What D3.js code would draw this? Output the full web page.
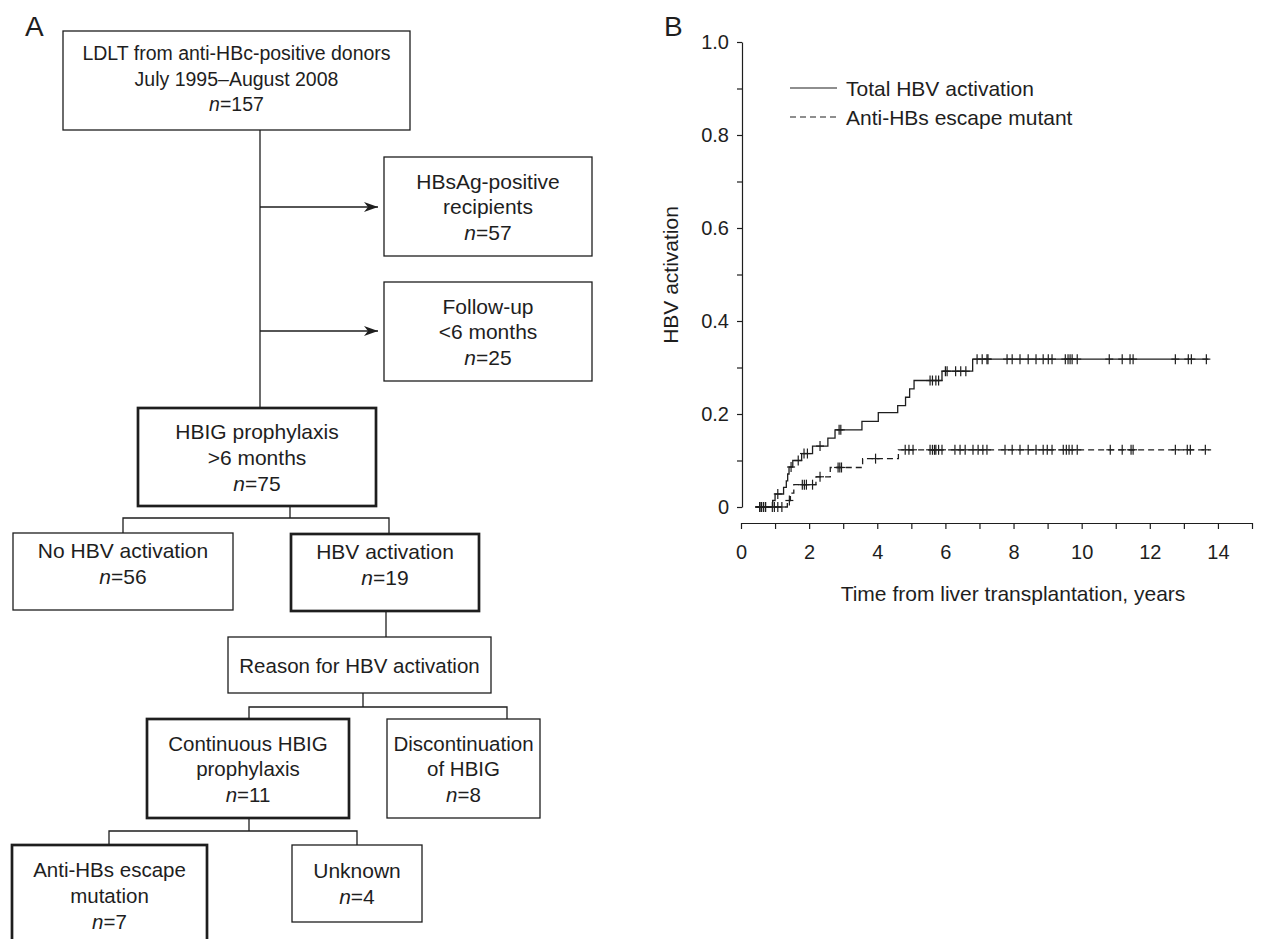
<!DOCTYPE html>
<html>
<head>
<meta charset="utf-8">
<script src="https://cdn.jsdelivr.net/npm/d3@7"></script>
<style>
  body { margin: 0; background: #fff; }
  svg { display: block; font-family: "Liberation Sans", Arial, Helvetica, sans-serif; }
</style>
</head>
<body>
<div id="chart"></div>
<script>
// ---- Panel B: cumulative HBV activation (step curves) ----
const yearTicks = d3.range(0, 16);
const yearLabels = [0, 2, 4, 6, 8, 10, 12, 14];
const activationTicks = d3.range(0, 11).map(d => d / 10);
const activationLabels = ["0", "0.2", "0.4", "0.6", "0.8", "1.0"];
const seriesNames = ["Total HBV activation", "Anti-HBs escape mutant"];

// [years, cumulative activation after the step]
const totalStart = 0.42, totalEnd = 13.72;
const totalSteps = [
    [0.93, 0.014], [1.0, 0.028], [1.25, 0.042], [1.33, 0.056], [1.37, 0.071],
    [1.41, 0.086], [1.52, 0.100], [1.78, 0.115], [2.10, 0.131], [2.55, 0.148],
    [2.76, 0.166], [3.55, 0.184], [4.03, 0.203], [4.60, 0.218], [4.83, 0.236],
    [4.95, 0.254], [5.08, 0.272], [5.90, 0.292], [6.80, 0.318]
];
const totalCensored = [
    0.55, 0.6, 0.66, 0.72, 1.08, 1.47, 1.68, 1.85, 1.95, 2.32, 2.88, 2.93,
    5.55, 5.62, 5.72, 5.8, 6.0, 6.05, 6.3, 6.45, 6.6, 6.93, 7.08, 7.22, 7.25,
    7.81, 7.96, 8.19, 8.43, 8.66, 8.87, 9.02, 9.13, 9.52, 9.6, 9.66, 9.72, 9.87,
    10.81, 11.19, 11.42, 11.51, 12.75, 13.13, 13.22, 13.66
];

const escapeStart = 0.42, escapeEnd = 13.8;
const escapeSteps = [
    [1.36, 0.014], [1.45, 0.030], [1.55, 0.048], [2.20, 0.065],
    [2.62, 0.085], [3.57, 0.104], [4.62, 0.123]
];
const escapeCensored = [
    0.55, 0.6, 0.66, 0.72, 0.92, 0.98, 1.08, 1.2, 1.42, 1.8, 1.86, 1.92, 2.1,
    2.32, 2.85, 2.9, 2.95, 3.95, 4.82, 4.93, 5.05, 5.55, 5.62, 5.68, 5.72, 5.8,
    5.9, 6.28, 6.43, 6.58, 6.81, 6.96, 7.1, 7.22, 7.75, 7.96, 8.19, 8.43, 8.66,
    8.87, 8.99, 9.13, 9.46, 9.55, 9.63, 9.72, 9.87, 10.84, 11.19, 11.45, 11.51,
    12.75, 13.1, 13.19, 13.63
];

// ---- Panel A: patient flow ----
const flowNodes = [
    { id: "ldlt", lines: ["LDLT from anti-HBc-positive donors", "July 1995\u2013August 2008"], n: 157 },
    { id: "hbsag", lines: ["HBsAg-positive", "recipients"], n: 57 },
    { id: "followup", lines: ["Follow-up", "<6 months"], n: 25 },
    { id: "hbig", lines: ["HBIG prophylaxis", ">6 months"], n: 75, bold: true },
    { id: "noact", lines: ["No HBV activation"], n: 56 },
    { id: "act", lines: ["HBV activation"], n: 19, bold: true },
    { id: "reason", lines: ["Reason for HBV activation"], n: null },
    { id: "cont", lines: ["Continuous HBIG", "prophylaxis"], n: 11, bold: true },
    { id: "disc", lines: ["Discontinuation", "of HBIG"], n: 8 },
    { id: "escape", lines: ["Anti-HBs escape", "mutation"], n: 7, bold: true },
    { id: "unknown", lines: ["Unknown"], n: 4 }
];

// box geometry: x, y, width, height, text shift, font size
const boxLayout = {
    ldlt: [63, 31, 347, 99, -2, 19.5],
    hbsag: [384, 157, 208, 99, 0, 21],
    followup: [384, 282, 208, 99, 0, 21],
    hbig: [138, 408, 238, 98, 0, 21],
    noact: [13, 533, 220, 77, -8, 21],
    act: [291, 534, 188, 77, -8, 21],
    reason: [228, 637, 263, 56, 0, 20.5],
    cont: [147, 719, 202, 99, 0, 20.5],
    disc: [387, 719, 153, 99, 0, 20.5],
    escape: [12, 845, 195, 100, 0, 20.5],
    unknown: [292, 845, 130, 77, 0, 21]
};

const connectors = [
    [[260, 130], [260, 408]],
    [[290, 506], [290, 518]],
    [[123, 533], [123, 518], [389, 518], [389, 533]],
    [[386, 611], [386, 637]],
    [[363, 693], [363, 707]],
    [[249, 719], [249, 707], [507, 707], [507, 719]],
    [[249, 818], [249, 831]],
    [[109, 845], [109, 831], [357, 831], [357, 845]]
];
const arrows = [
    [[260, 207], [378, 207]],
    [[260, 331], [378, 331]]
];

const W = 1261, H = 939;
const ink = "#1e1e1e";

const svg = d3.select("#chart").append("svg")
    .attr("width", W)
    .attr("height", H);

svg.append("defs").append("marker")
    .attr("id", "head")
    .attr("viewBox", "0 0 14 10")
    .attr("refX", 14)
    .attr("refY", 5)
    .attr("markerUnits", "userSpaceOnUse")
    .attr("markerWidth", 14)
    .attr("markerHeight", 10)
    .attr("orient", "auto")
    .append("path")
    .attr("d", "M0,0 L14,5 L0,10 L4,5 Z")
    .attr("fill", ink);

// panel letters
svg.append("text").attr("x", 25).attr("y", 36).attr("font-size", 28).attr("fill", ink).text("A");
svg.append("text").attr("x", 664).attr("y", 36).attr("font-size", 28).attr("fill", ink).text("B");

// ---------- flowchart ----------
const flow = svg.append("g").attr("class", "flow");
const path = d3.line();

connectors.forEach(pts => {
    flow.append("path")
        .attr("d", path(pts))
        .attr("fill", "none")
        .attr("stroke", ink)
        .attr("stroke-width", 1.3);
});
arrows.forEach(pts => {
    flow.append("path")
        .attr("d", path(pts))
        .attr("fill", "none")
        .attr("stroke", ink)
        .attr("stroke-width", 1.3)
        .attr("marker-end", "url(#head)");
});

const lineHeight = 25.5;
flowNodes.forEach(node => {
    const [bx, by, bw, bh, shift, fs] = boxLayout[node.id];
    flow.append("rect")
        .attr("x", bx).attr("y", by)
        .attr("width", bw).attr("height", bh)
        .attr("fill", "#fff")
        .attr("stroke", ink)
        .attr("stroke-width", node.bold ? 2.7 : 1.3);

    const lines = node.n == null ? node.lines : [...node.lines, null];
    const cy = by + bh / 2 + shift;
    lines.forEach((ln, i) => {
        const t = flow.append("text")
            .attr("x", bx + bw / 2)
            .attr("y", cy + (i - (lines.length - 1) / 2) * lineHeight)
            .attr("text-anchor", "middle")
            .attr("dominant-baseline", "central")
            .attr("font-size", fs)
            .attr("fill", ink);
        if (ln === null) {
            t.append("tspan").attr("font-style", "italic").text("n");
            t.append("tspan").text("=" + node.n);
        } else {
            t.text(ln);
        }
    });
});

// ---------- survival-type plot ----------
const x = d3.scaleLinear().domain([0, 15]).range([741, 1252]);
const y = d3.scaleLinear().domain([0, 1]).range([507, 42]);

const styleAxis = g => {
    g.attr("font-family", null).attr("font-size", null);
    g.select(".domain").attr("stroke", ink).attr("stroke-width", 1.2);
    g.selectAll(".tick line").attr("stroke", ink).attr("stroke-width", 1.2);
    g.selectAll(".tick text").attr("fill", ink).attr("font-size", 20);
};

svg.append("g")
    .attr("transform", "translate(742,0)")
    .call(d3.axisLeft(y)
        .tickValues(activationTicks)
        .tickSize(5)
        .tickSizeOuter(0)
        .tickPadding(8)
        .tickFormat(d => {
            const i = Math.round(d * 10);
            return i % 2 === 0 ? activationLabels[i / 2] : "";
        }))
    .call(styleAxis);

svg.append("g")
    .attr("transform", "translate(0,523)")
    .call(d3.axisBottom(x)
        .tickValues(yearTicks)
        .tickSize(6)
        .tickSizeOuter(0)
        .tickPadding(16)
        .tickFormat(d => yearLabels.includes(d) ? d : ""))
    .call(styleAxis);

svg.append("text")
    .attr("transform", "translate(678,275) rotate(-90)")
    .attr("text-anchor", "middle")
    .attr("font-size", 21)
    .attr("fill", ink)
    .text("HBV activation");

svg.append("text")
    .attr("x", 1013)
    .attr("y", 593)
    .attr("text-anchor", "middle")
    .attr("dominant-baseline", "central")
    .attr("font-size", 21)
    .attr("fill", ink)
    .text("Time from liver transplantation, years");

const stepLine = d3.line()
    .x(d => x(d[0]))
    .y(d => y(d[1]))
    .curve(d3.curveStepAfter);

function levelAt(steps, t) {
    let v = 0;
    steps.forEach(s => { if (s[0] <= t) v = s[1]; });
    return v;
}

const series = [
    { name: seriesNames[0], start: totalStart, end: totalEnd, steps: totalSteps, censored: totalCensored, dash: null },
    { name: seriesNames[1], start: escapeStart, end: escapeEnd, steps: escapeSteps, censored: escapeCensored, dash: "6,4" }
];

series.forEach(s => {
    const pts = [[s.start, 0], ...s.steps, [s.end, s.steps[s.steps.length - 1][1]]];
    svg.append("path")
        .attr("d", stepLine(pts))
        .attr("fill", "none")
        .attr("stroke", ink)
        .attr("stroke-width", 1.3)
        .attr("stroke-dasharray", s.dash);

    const marks = svg.append("g").attr("stroke", ink).attr("stroke-width", 1.2);
    s.censored.forEach(t => {
        const cx = x(t), cy = y(levelAt(s.steps, t));
        marks.append("line").attr("x1", cx).attr("x2", cx).attr("y1", cy - 5).attr("y2", cy + 5);
        marks.append("line").attr("x1", cx - 4).attr("x2", cx + 4).attr("y1", cy).attr("y2", cy);
    });
});

// legend
const legend = svg.append("g").attr("transform", "translate(790,88)");
series.forEach((s, i) => {
    const row = legend.append("g").attr("transform", `translate(0,${i * 29})`);
    row.append("line")
        .attr("x1", 0).attr("x2", 47)
        .attr("stroke", ink)
        .attr("stroke-width", 1.2)
        .attr("stroke-dasharray", s.dash);
    row.append("text")
        .attr("x", 56)
        .attr("dominant-baseline", "central")
        .attr("font-size", 21)
        .attr("fill", ink)
        .text(s.name);
});
</script>
</body>
</html>
